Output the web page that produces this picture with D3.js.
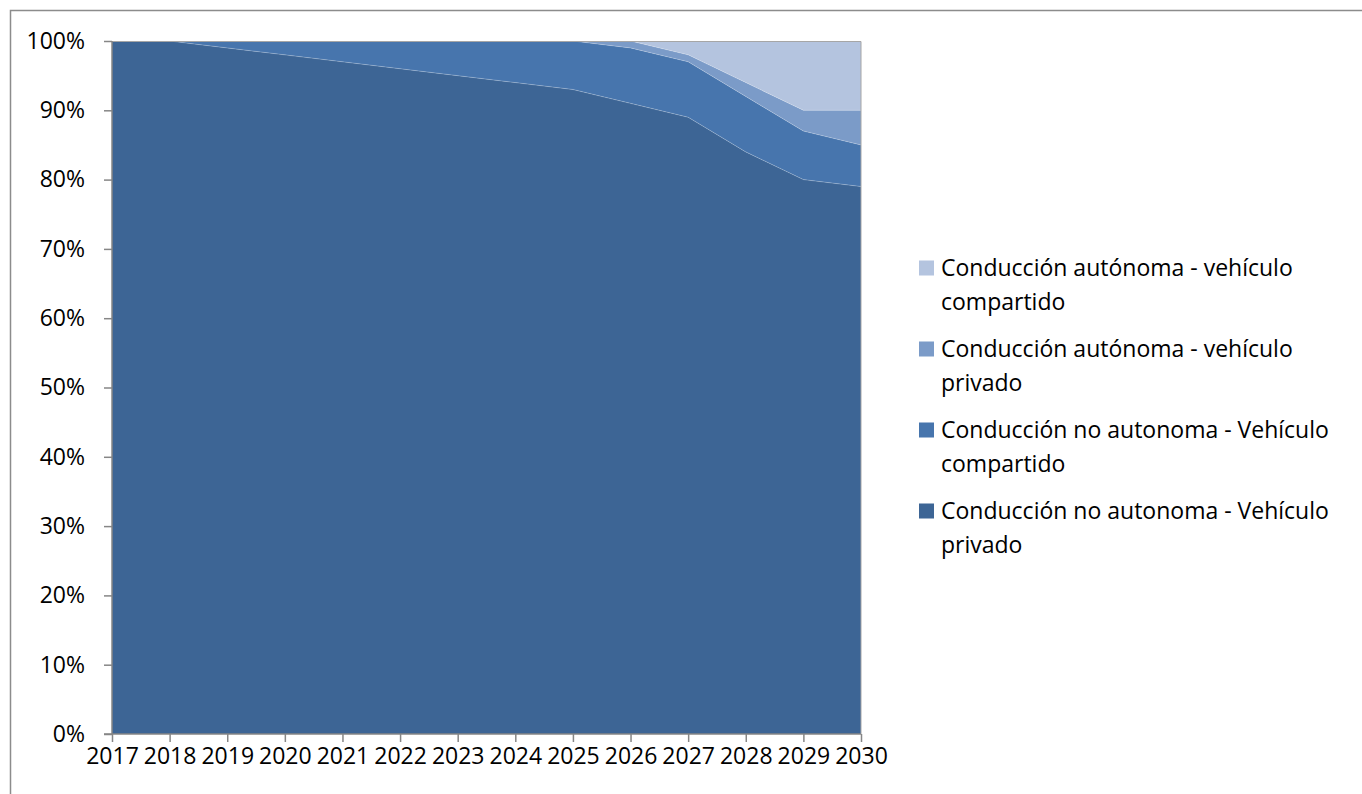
<!DOCTYPE html>
<html>
<head>
<meta charset="utf-8">
<script src="https://cdn.jsdelivr.net/npm/d3@7"></script>
<style>
  html, body { margin: 0; padding: 0; background: #ffffff; }
  svg { display: block; font-family: "Open Sans", "Noto Sans", sans-serif; }
</style>
</head>
<body>
<svg id="chart" width="1362" height="794"></svg>
<script>
// Years on the horizontal axis
const years = [2017, 2018, 2019, 2020, 2021, 2022, 2023, 2024, 2025, 2026, 2027, 2028, 2029, 2030];

// Share of each mobility mode (percent), one array per series
const noAutonomaPrivado     = [100, 100, 99, 98, 97, 96, 95, 94, 93, 91, 89, 84, 80, 79];
const noAutonomaCompartido  = [0, 0, 1, 2, 3, 4, 5, 6, 7, 8, 8, 8, 7, 6];
const autonomaPrivado       = [0, 0, 0, 0, 0, 0, 0, 0, 0, 1, 1, 2, 3, 5];
const autonomaCompartido    = [0, 0, 0, 0, 0, 0, 0, 0, 0, 0, 2, 6, 10, 10];

// Series names (stack order, bottom to top)
const seriesNames = [
  "Conducción no autonoma - Vehículo privado",
  "Conducción no autonoma - Vehículo compartido",
  "Conducción autónoma - vehículo privado",
  "Conducción autónoma - vehículo compartido"
];

// Y-axis tick values
const yTickValues = [0, 0.1, 0.2, 0.3, 0.4, 0.5, 0.6, 0.7, 0.8, 0.9, 1.0];

// Legend lines (top to bottom), each wrapped in two lines
const legendLines = [
  ["Conducción autónoma - vehículo", "compartido"],
  ["Conducción autónoma - vehículo", "privado"],
  ["Conducción no autonoma - Vehículo", "compartido"],
  ["Conducción no autonoma - Vehículo", "privado"]
];

const colors = ["#3d6595", "#4775ad", "#7b9bc8", "#b4c4df"];
const axisColor = "#868686";
const fontSize = 23;

const rows = years.map((y, i) => ({
  year: y,
  s0: noAutonomaPrivado[i],
  s1: noAutonomaCompartido[i],
  s2: autonomaPrivado[i],
  s3: autonomaCompartido[i]
}));
const keys = ["s0", "s1", "s2", "s3"];

const svg = d3.select("#chart");

// Outer chart frame
svg.append("rect")
  .attr("x", 10.5).attr("y", 10.5)
  .attr("width", 1500).attr("height", 1000)
  .attr("fill", "none")
  .attr("stroke", "#8c8c8c")
  .attr("stroke-width", 1.5);

const x = d3.scalePoint().domain(years).range([112, 861]);
const y = d3.scaleLinear().domain([0, 1]).range([734, 41]);

// Stacked, normalised to 100%
const stack = d3.stack().keys(keys).offset(d3.stackOffsetExpand);
const layers = stack(rows);

const area = d3.area()
  .x(d => x(d.data.year))
  .y0(d => y(d[0]))
  .y1(d => y(d[1]));

svg.append("g")
  .selectAll("path")
  .data(layers)
  .join("path")
  .attr("d", area)
  .attr("fill", (d, i) => colors[i]);

// faint boundary lines between layers
const topLine = d3.line()
  .x(d => x(d.data.year))
  .y(d => y(d[1]));
svg.append("g")
  .selectAll("path")
  .data(layers.slice(0, 3))
  .join("path")
  .attr("d", topLine)
  .attr("fill", "none")
  .attr("stroke", "#ffffff")
  .attr("stroke-opacity", 0.22)
  .attr("stroke-width", 1);

// top and right edge of the plotted area
svg.append("path")
  .attr("d", `M${x(years[0])},${y(1) + 0.5}H${x(years[years.length - 1])}V${y(0)}`)
  .attr("fill", "none")
  .attr("stroke", "#a6a6a6")
  .attr("stroke-width", 1);

// Y axis
const yAxis = d3.axisLeft(y)
  .tickValues(yTickValues)
  .tickFormat(d3.format(".0%"))
  .tickSize(8)
  .tickPadding(19);
const gy = svg.append("g")
  .attr("transform", `translate(${x(years[0])},0)`)
  .call(yAxis);
gy.select(".domain").attr("stroke", axisColor).attr("stroke-width", 1.5).attr("d", `M0,${y(1)}V${y(0)}`);
gy.selectAll(".tick line").attr("stroke", axisColor).attr("stroke-width", 1.5);
gy.selectAll(".tick text")
  .attr("fill", "#000")
  .attr("font-size", fontSize)
  .attr("font-family", "'Open Sans', sans-serif");

// X axis
const xAxis = d3.axisBottom(x)
  .tickSize(8)
  .tickPadding(6);
const gx = svg.append("g")
  .attr("transform", `translate(0,${y(0)})`)
  .call(xAxis);
gx.select(".domain").attr("stroke", axisColor).attr("stroke-width", 1.5)
  .attr("d", `M${x(years[0]) - 8},0H${x(years[years.length - 1])}`);
gx.selectAll(".tick line").attr("stroke", axisColor).attr("stroke-width", 1.5);
gx.selectAll(".tick text")
  .attr("fill", "#000")
  .attr("font-size", fontSize)
  .attr("font-family", "'Open Sans', sans-serif");

// Legend
const legendColors = [colors[3], colors[2], colors[1], colors[0]];
const legendTop = 268;
const entryGap = 81;
const lineGap = 34;
const lg = svg.append("g");
legendLines.forEach((lines, i) => {
  const cy = legendTop + i * entryGap;
  lg.append("rect")
    .attr("x", 919).attr("y", cy - 7.5)
    .attr("width", 15).attr("height", 15)
    .attr("fill", legendColors[i]);
  const t = lg.append("text")
    .attr("x", 941)
    .attr("y", cy)
    .attr("font-size", fontSize)
    .attr("fill", "#000");
  lines.forEach((ln, j) => {
    t.append("tspan")
      .attr("x", 941)
      .attr("y", cy + j * lineGap)
      .attr("dy", "0.35em")
      .text(ln);
  });
});
</script>
</body>
</html>
